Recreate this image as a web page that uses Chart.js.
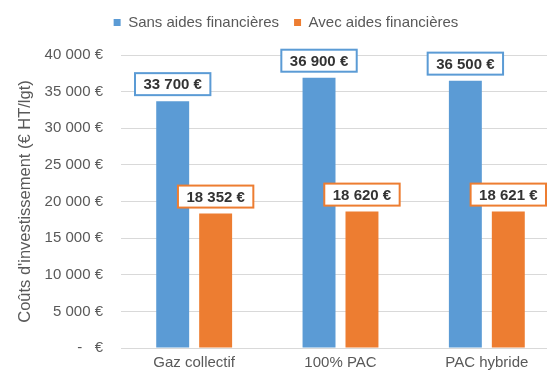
<!DOCTYPE html>
<html>
<head>
<meta charset="utf-8">
<script src="https://cdn.jsdelivr.net/npm/chart.js@4.4.1/dist/chart.umd.min.js"></script>
<style>
  html, body { margin: 0; padding: 0; background: #fff; overflow: hidden; }
  #wrap { width: 575px; height: 375px; }
</style>
</head>
<body>
<div id="wrap"><canvas id="coutChart"></canvas></div>
<script>
// investment cost per dwelling, with and without financial aid
const categories = ['Gaz collectif', '100% PAC', 'PAC hybride'];
const sansAides = [33700, 36900, 36500];
const avecAides = [18352, 18620, 18621];
const yTicks = [0, 5000, 10000, 15000, 20000, 25000, 30000, 35000, 40000];

const BLUE = '#5B9BD5';
const ORANGE = '#ED7D31';
const FONT = '"Liberation Sans", Arial, sans-serif';
const GREY = '#595959';

// "33 700 €" style formatting, with the accounting dash for zero
function euros(v) {
  if (v === 0) return '-   €';
  return String(v).replace(/\B(?=(\d{3})+(?!\d))/g, ' ') + ' €';
}

// boxed value labels above each bar
const valueBoxes = {
  id: 'valueBoxes',
  afterDatasetsDraw(chart) {
    const ctx = chart.ctx;
    ctx.save();
    ctx.font = 'bold 15px ' + FONT;
    ctx.textAlign = 'center';
    ctx.textBaseline = 'middle';
    chart.data.datasets.forEach((ds, i) => {
      chart.getDatasetMeta(i).data.forEach((bar, j) => {
        const txt = euros(ds.data[j]);
        const w = ctx.measureText(txt).width + 17;
        const h = 22;
        const x = bar.x - w / 2;
        const y = bar.y - 6 - h;
        ctx.fillStyle = '#fff';
        ctx.fillRect(x, y, w, h);
        ctx.lineWidth = 2;
        ctx.strokeStyle = ds.backgroundColor;
        ctx.strokeRect(x, y, w, h);
        ctx.fillStyle = '#333';
        ctx.fillText(txt, bar.x, y + h / 2 + 1);
      });
    });
    ctx.restore();
  }
};

// leave more room between the legend and the plot
const legendSpace = {
  id: 'legendSpace',
  beforeLayout(chart) {
    const lg = chart.legend;
    if (!lg || lg._spaced) return;
    const fit = lg.fit;
    lg.fit = function () {
      fit.call(this);
      this.height = 55;
    };
    lg._spaced = true;
  }
};

const ctx = document.getElementById('coutChart').getContext('2d');
new Chart(ctx, {
  type: 'bar',
  data: {
    labels: categories,
    datasets: [
      { label: 'Sans aides financières', data: sansAides, backgroundColor: BLUE },
      { label: 'Avec aides financières', data: avecAides, backgroundColor: ORANGE }
    ]
  },
  options: {
    responsive: true,
    maintainAspectRatio: false,
    animation: false,
    categoryPercentage: 0.587,
    barPercentage: 0.767,
    layout: { padding: { left: 12, top: 0, right: 15, bottom: 0 } },
    plugins: {
      tooltip: { enabled: false },
      legend: {
        position: 'top',
        labels: {
          font: { family: FONT, size: 15 },
          color: GREY,
          boxWidth: 7,
          boxHeight: 7,
          padding: 15
        }
      }
    },
    scales: {
      x: {
        afterFit: (s) => { s.height = 23; },
        grid: { display: false, drawTicks: false },
        border: { display: false },
        ticks: { font: { family: FONT, size: 15 }, color: GREY, padding: 6 }
      },
      y: {
        min: 0,
        max: 40000,
        afterBuildTicks: (s) => { s.ticks = yTicks.map(v => ({ value: v })); },
        afterFit: (s) => { s.width = 109; },
        grid: { color: '#D9D9D9', lineWidth: 1, drawTicks: false },
        border: { display: false },
        ticks: {
          font: { family: FONT, size: 15 },
          color: GREY,
          padding: 18,
          callback: (v) => euros(v)
        },
        title: {
          display: true,
          text: "Coûts d'investissement (€ HT/lgt)",
          font: { family: FONT, size: 16.5 },
          color: GREY,
          padding: { top: 4, bottom: 0 }
        }
      }
    }
  },
  plugins: [valueBoxes, legendSpace]
});
</script>
</body>
</html>
